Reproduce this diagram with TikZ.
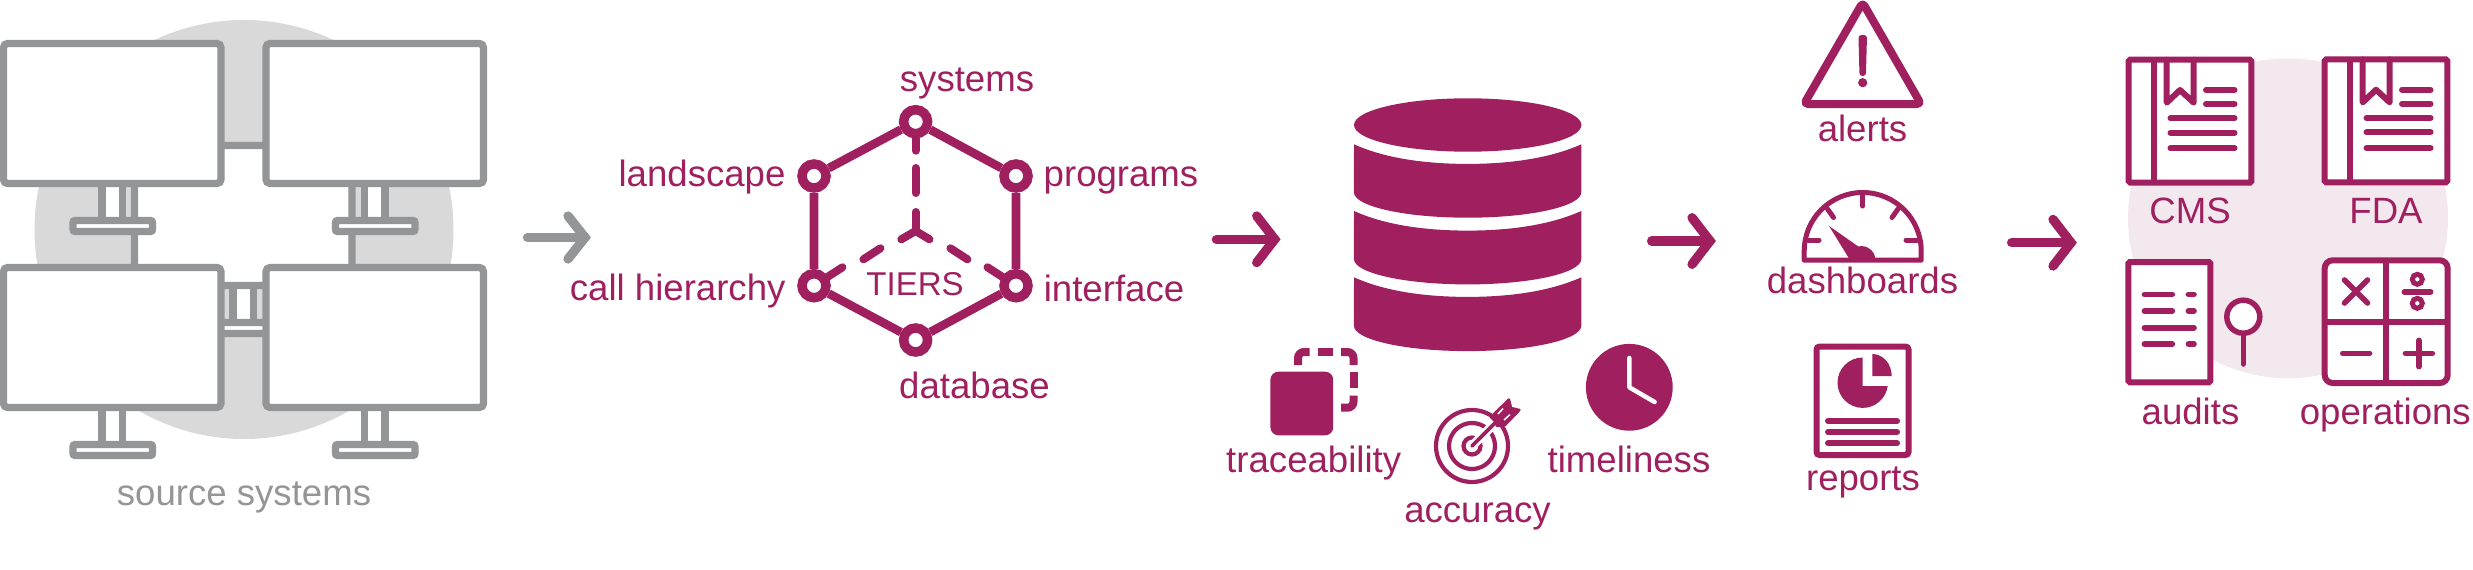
\documentclass[tikz,border=0pt]{standalone}
\usepackage{fontspec}
\setmainfont{Liberation Sans}
\definecolor{plum}{HTML}{9F1F5F}
\definecolor{steel}{HTML}{949597}
\definecolor{mist}{HTML}{D9D9DA}
\definecolor{blush}{HTML}{F4E8EF}
\tikzset{
  label text/.style={inner sep=0pt,anchor=base,text=plum,font=\fontsize{36.6}{40}\selectfont},
  gray text/.style={label text,text=steel},
  screen/.style={draw=steel,fill=white,line width=7.2pt,rounded corners=4pt},
  flowgray/.style={draw=steel,line width=9.3pt,line cap=round,miter limit=10},
  flowplum/.style={draw=plum,line width=9.3pt,line cap=round,miter limit=10},
  hexdot/.style={circle,draw=plum,fill=white,line width=9.5pt,minimum size=24pt,inner sep=0pt},
  hexedge/.style={draw=plum,line width=8.6pt},
  tierdash/.style={draw=plum,line width=8pt,line cap=round},
  icon/.style={draw=plum,fill=white,line width=6pt},
  rule/.style={draw=plum,line width=6pt,line cap=round},
  fine/.style={draw=plum,line width=5.6pt,line cap=round},
  target/.style={draw=plum,line width=4.2pt},
}
% One display: screen outline at (#1,#2), with its stand below
\newcommand{\monitorunit}[2]{
  \draw[screen,rounded corners=0pt] (#1+98.5,#2+140) rectangle ++(20.5,37);
  \draw[screen,rounded corners=2pt] (#1+69.5,#2+177) rectangle ++(79.5,11);
  \draw[screen] (#1,#2) rectangle ++(217.5,140);
}
% Book with bookmark, spine and text lines; #1 is the left edge, #2 the top edge
\newcommand{\bookicon}[2]{
  \begin{scope}[shift={(#1,#2)}]
    \draw[icon,rounded corners=1.5pt] (0,0) rectangle (122.6,123);
    \draw[icon,fill=none] (25.6,0) -- (25.6,123);
    \draw[icon,fill=none,line join=round,line cap=round] (38,0) -- (38,43) -- (51.3,30.3) -- (65,43) -- (65,0);
    \draw[rule] (77.3,30.3) -- (105.8,30.3);
    \draw[rule] (77.3,44.3) -- (105.8,44.3);
    \draw[rule] (41.8,58.6) -- (105.8,58.6);
    \draw[rule] (41.8,73) -- (105.8,73);
    \draw[rule] (41.8,88.6) -- (105.8,88.6);
  \end{scope}
}
\begin{document}
\begin{tikzpicture}[x=1pt,y=-1pt]
\path[use as bounding box] (0,0) rectangle (2473,570);

% Source systems
\fill[mist] (244,229.5) circle[radius=209.5];
\monitorunit{134.5}{145.5}
\monitorunit{3.5}{43.5}
\monitorunit{266}{43.5}
\monitorunit{3.5}{267.5}
\monitorunit{266}{267.5}
\node[gray text] (source) at (244,505) {source systems};

% Flow arrows between the stages
\coordinate (a1s) at (527.5,237.5); \coordinate (a1e) at (585,237.5);
\coordinate (a2s) at (1216.4,239.3);\coordinate (a2e) at (1274.7,239.3);
\coordinate (a3s) at (1651.6,241);  \coordinate (a3e) at (1710,241);
\coordinate (a4s) at (2011.6,242.7);\coordinate (a4e) at (2071,242.7);
\foreach \s/\e in {a2s/a2e,a3s/a3e,a4s/a4e}{
  \draw[flowplum] (\s) -- (\e);
  \draw[flowplum] (\e) ++(-18,-23.3) -- (\e) -- ++(-18,23.3);
}
\draw[flowgray] (a1s) -- (a1e);
\draw[flowgray] (a1e) ++(-17,-21.5) -- (a1e) -- ++(-17,21.5);

% Tiers hexagon
\node[hexdot] (top) at (915.6,121.7) {};
\node[hexdot] (upl) at (814,176) {};
\node[hexdot] (upr) at (1016,176) {};
\node[hexdot] (lowl) at (814,285.7) {};
\node[hexdot] (lowr) at (1016,285.7) {};
\node[hexdot] (bot) at (915.6,340) {};
\draw[hexedge] (top) -- (upr) -- (lowr) -- (bot) -- (lowl) -- (upl) -- (top);
\coordinate (hub) at (915.6,231);
\coordinate (d1) at (915.6,150.7);
\coordinate (dl) at (842.4,267.3);
\coordinate (dr) at (987.5,267.3);
\draw[tierdash,line cap=butt] (top) -- (915.6,140);
\draw[tierdash] (915.6,140) -- (d1);
\draw[tierdash] (915.6,168) -- (915.6,193);
\draw[tierdash,line join=round] (915.6,212) -- (hub);
\draw[tierdash,line join=round] (901.3,239.3) -- (hub) -- (929.5,239.3);
\draw[tierdash] (863.4,259.3) -- (880.4,248.3);
\draw[tierdash] (950.4,248.3) -- (967.4,259.3);
\draw[tierdash] (dl) -- (lowl);
\draw[tierdash] (dr) -- (lowr);
\node[label text,font=\fontsize{33}{36}\selectfont] (tiers) at (915,295.7) {TIERS};
\node[label text] (systems) at (967,91.7) {systems};
\node[label text] (landscape) at (702,186) {landscape};
\node[label text] (programs) at (1121,186) {programs};
\node[label text] (callh) at (677.7,300.7) {call hierarchy};
\node[label text] (interface) at (1114,301.7) {interface};
\node[label text] (database) at (974.5,398) {database};

% Database cylinder
\fill[plum] (1467.7,125) ellipse[x radius=113.7,y radius=26.7];
\foreach \t/\b in {144.3/192.3,211/259,277.3/325.7}{
  \fill[plum] (1354,\t) .. controls (1385,\t+14) and (1425,\t+19.6) .. (1467.7,\t+19.6)
     .. controls (1510,\t+19.6) and (1550,\t+14) .. (1581.3,\t)
     -- (1581.3,\b) arc[start angle=0,end angle=180,x radius=113.7,y radius=25.4] -- cycle;
}

% Traceability icon
\fill[plum,rounded corners=8pt] (1270.4,371.7) rectangle (1333.2,435.3);
\begin{scope}[draw=plum,line width=8pt]
  \draw[rounded corners=6pt] (1298,365) -- (1298,352) -- (1309.6,352);
  \draw (1317.9,352) -- (1333.2,352);
  \draw[rounded corners=6pt] (1341,352) -- (1353.5,352) -- (1353.5,365);
  \draw (1353.5,371.7) -- (1353.5,388.3);
  \draw[rounded corners=6pt] (1353.5,395.7) -- (1353.5,407.7) -- (1341,407.7);
\end{scope}
\node[label text] (trace) at (1313.7,472) {traceability};

% Accuracy icon
\draw[target] (1472,446) circle[radius=36];
\draw[target] (1472,446) circle[radius=23];
\draw[target] (1472,446) circle[radius=8.5];
\draw[white,line width=9pt] (1472,446) -- (1503,415);
\draw[target,line width=3.6pt,line cap=round] (1472,446) -- (1497,421);
\draw[target,fill=plum,line join=round,line width=2.5pt]
  (1491,417) -- (1508.9,399.5) -- (1511,408) -- (1519.4,410) -- (1505,425) -- (1497,426) -- (1495,421) -- cycle;
\draw[white,line width=1.5pt] (1498,414) -- (1503,408.5);
\draw[white,line width=1.5pt] (1504,420) -- (1510,414.5);
\node[label text] (accuracy) at (1477.5,522.7) {accuracy};

% Timeliness icon
\fill[plum] (1629.3,387.3) circle[radius=43.4];
\draw[white,line width=4.5pt,line cap=round,line join=round] (1629.3,358) -- (1629.3,387.3) -- (1654.6,402);
\node[label text] (time) at (1629,472) {timeliness};

% Alert icon
\draw[draw=plum,line width=8pt,line join=round,rounded corners=4pt] (1862.6,2.5) -- (1921,104) -- (1804,104) -- cycle;
\fill[plum,rounded corners=3pt] (1858.4,35) -- (1867,35) -- (1865.9,76) -- (1859.5,76) -- cycle;
\fill[plum] (1862.7,82.7) circle[radius=4.6];
\node[label text] (alerts) at (1862.5,141) {alerts};

% Dashboard icon
\draw[draw=plum,line width=5pt,line join=round] (1804.2,260.2) -- (1804.2,251) arc[start angle=180,end angle=360,radius=58.5] -- (1921.2,260.2) -- cycle;
\begin{scope}[draw=plum,line width=5pt,line cap=round]
  \draw (1862.7,195) -- (1862.7,206);
  \draw (1808,240) -- (1819,240);
  \draw (1906,240) -- (1917,240);
  \draw (1827.5,209) -- (1833.5,217.5);
  \draw (1898,209) -- (1892,217.5);
\end{scope}
\fill[plum] (1829,226) -- (1858.3,246.5) .. controls (1866,244.5) and (1875,250) .. (1875.5,260) -- (1850,260) -- cycle;
\node[label text] (dash) at (1862.5,293.3) {dashboards};

% Report icon
\draw[icon,rounded corners=3pt] (1816.5,346.5) rectangle (1908.5,455);
\fill[plum] (1862.7,386) -- (1862.7,357.5) arc[start angle=-90,end angle=-352,radius=25.2] -- cycle;
\fill[plum] (1872.3,376) -- (1872.3,354) arc[start angle=-90,end angle=0,x radius=19.4,y radius=22] -- cycle;
\foreach \y in {421,432,443.3}{\draw[rule] (1828,\y) -- (1897,\y);}
\node[label text] (reports) at (1863,490) {reports};

% Regulators and consumers
\fill[blush] (2288,218.3) circle[radius=160];
\bookicon{2128.7}{59.7}
\bookicon{2324.7}{59.4}
\node[label text] (cms) at (2190,223.3) {CMS};
\node[label text] (fda) at (2386,223.3) {FDA};

% Audit sheet and magnifier
\draw[icon,rounded corners=1.5pt] (2128.3,262) rectangle (2210.3,382.3);
\foreach \y in {294.3,311,344}{
  \draw[fine] (2144.4,\y) -- (2172.3,\y);
  \draw[fine] (2188.4,\y) -- (2194,\y);
}
\draw[fine] (2144.4,327.7) -- (2194,327.7);
\draw[fine] (2243.3,333) -- (2243.3,364);
\draw[icon,line width=5.5pt] (2243.3,316.7) circle[radius=16.5];
\node[label text] (audits) at (2190.5,424.3) {audits};

% Calculator operations
\draw[icon,rounded corners=8pt] (2324.7,260.3) rectangle (2447.7,383);
\draw[icon,fill=none] (2386,260.3) -- (2386,383);
\draw[icon,fill=none] (2324.7,321.7) -- (2447.7,321.7);
\draw[fine] (2344.5,280) -- (2367.5,303);
\draw[fine] (2367.5,280) -- (2344.5,303);
\draw[fine] (2404.4,291.7) -- (2430.6,291.7);
\draw[draw=plum,fill=white,line width=5pt] (2417.3,279.3) circle[radius=5];
\draw[draw=plum,fill=white,line width=5pt] (2417.3,303.3) circle[radius=5];
\draw[fine] (2342.7,353.3) -- (2369.6,353.3);
\draw[fine] (2405.4,353.3) -- (2432.3,353.3);
\draw[fine] (2418.7,340.4) -- (2418.7,366.6);
\node[label text] (ops) at (2385.3,424.3) {operations};
\end{tikzpicture}
\end{document}
